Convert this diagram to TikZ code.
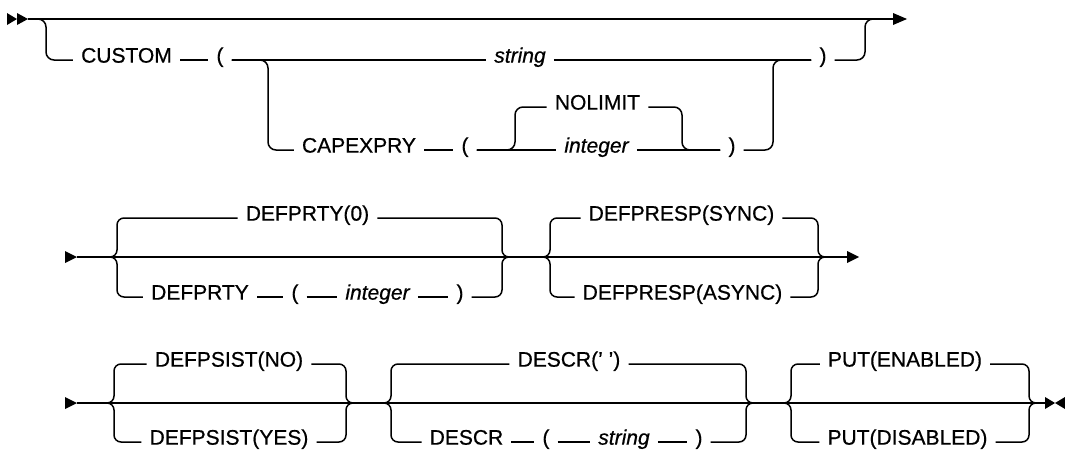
\documentclass[tikz,border=0pt]{standalone}
\usepackage{fontspec}
\setmainfont{Liberation Sans}[FakeBold=0.6]
\begin{document}
\begin{tikzpicture}[x=1pt,y=-1pt,
  rail/.style={line width=1.5pt, rounded corners=8pt},
  brace/.style={line width=1.5pt, rounded corners=7pt},
  lbl/.style={anchor=mid, inner xsep=8pt, inner ysep=2pt, font=\fontsize{21}{24}\selectfont},
  lbli/.style={lbl, font=\fontsize{21}{24}\selectfont\itshape},
  mark/.style={fill=black}]
\useasboundingbox (0,0) rectangle (1065,455);

% ---------- Row 1 ----------
\node[lbl]  (custom)   at (126.5,60) {CUSTOM};
\node[lbl]  (lp1)      at (220,60)   {(};
\node[lbli] (string1)  at (520,60)   {string};
\node[lbl]  (rp1)      at (823,60)   {)};
\node[lbl]  (capexpry) at (359,150)  {CAPEXPRY};
\node[lbl]  (lp2)      at (465,150)  {(};
\node[lbl]  (nolimit)  at (597.5,107) {NOLIMIT};
\node[lbli] (integer1) at (596.5,150) {integer};
\node[lbl]  (rp2)      at (732,150)  {)};

\coordinate (s1) at (28,19);
\coordinate (e1) at (893,19);
\fill (7,13) -- (17,19) -- (7,25) -- cycle;
\fill (17,13) -- (28,19) -- (17,25) -- cycle;
\draw[rail] (s1) -- (e1);
\fill (893,13) -- (907,19) -- (893,25) -- cycle;

\draw[rail] (30,19) -- (46,19) -- (46,60) -- (custom.mid west);
\draw[rail] (custom.mid east) -- (lp1.mid west);
\draw[rail] (lp1.mid east) -- (string1.mid west);
\draw[rail] (string1.mid east) -- (rp1.mid west);
\draw[rail] (rp1.mid east) -- (865,60) -- (865,19) -- (880,19);
\draw[rail] (lp1.mid east) -- (268,60) -- (268,150) -- (capexpry.mid west);
\draw[rail] (capexpry.mid east) -- (lp2.mid west);
\draw[rail] (lp2.mid east) -- (integer1.mid west);
\draw[rail] (lp2.mid east) -- (515,150) -- (515,107) -- (nolimit.mid west);
\draw[rail] (nolimit.mid east) -- (682,107) -- (682,150) -- (rp2.mid west);
\draw[rail] (integer1.mid east) -- (rp2.mid west);
\draw[rail] (rp2.mid east) -- (773,150) -- (773,60) -- (rp1.mid west);

% ---------- Row 2 ----------
\node[lbl]  (defprty0) at (307.5,218) {DEFPRTY(0)};
\node[lbl]  (defprty)  at (200,297)   {DEFPRTY};
\node[lbl]  (lp3)      at (295,297)   {(};
\node[lbli] (integer2) at (377.5,297) {integer};
\node[lbl]  (rp3)      at (460,297)   {)};
\node[lbl]  (sync)     at (681.5,218) {DEFPRESP(SYNC)};
\node[lbl]  (async)    at (682.5,297) {DEFPRESP(ASYNC)};

\fill (65,251) -- (77,257) -- (65,263) -- cycle;
\coordinate (s2) at (77,257);
\coordinate (e2) at (847,257);
\draw[rail] (s2) -- (e2);
\fill (847,251) -- (859,257) -- (847,263) -- cycle;

\draw[brace] (100,257) -- (117,257) -- (117,218) -- (defprty0.mid west);
\draw[brace] (100,257) -- (117,257) -- (117,297) -- (defprty.mid west);
\draw[rail] (defprty.mid east) -- (lp3.mid west);
\draw[rail] (lp3.mid east) -- (integer2.mid west);
\draw[rail] (integer2.mid east) -- (rp3.mid west);
\draw[brace] (defprty0.mid east) -- (502,218) -- (502,257) -- (520,257);
\draw[brace] (rp3.mid east) -- (502,297) -- (502,257) -- (520,257);

\draw[brace] (535,257) -- (550,257) -- (550,218) -- (sync.mid west);
\draw[brace] (535,257) -- (550,257) -- (550,297) -- (async.mid west);
\draw[brace] (sync.mid east) -- (818,218) -- (818,257) -- (835,257);
\draw[brace] (async.mid east) -- (818,297) -- (818,257) -- (835,257);

% ---------- Row 3 ----------
\node[lbl]  (psno)    at (229,364)   {DEFPSIST(NO)};
\node[lbl]  (psyes)   at (229,442)   {DEFPSIST(YES)};
\node[lbl]  (descr0)  at (569,364)   {DESCR(' ')};
\node[lbl]  (descr)   at (466.5,442) {DESCR};
\node[lbl]  (lp4)     at (546,442)   {(};
\node[lbli] (string2) at (624,442)   {string};
\node[lbl]  (rp4)     at (699,442)   {)};
\node[lbl]  (puten)   at (905,364)   {PUT(ENABLED)};
\node[lbl]  (putdis)  at (907.5,442) {PUT(DISABLED)};

\fill (65,397) -- (77,403) -- (65,409) -- cycle;
\coordinate (s3) at (77,403);
\coordinate (e3) at (1045,403);
\draw[rail] (s3) -- (e3);
\fill (1045,397) -- (1055,403) -- (1045,409) -- cycle;
\fill (1065,397) -- (1055,403) -- (1065,409) -- cycle;

\draw[brace] (97,403) -- (114,403) -- (114,364) -- (psno.mid west);
\draw[brace] (97,403) -- (114,403) -- (114,442) -- (psyes.mid west);
\draw[brace] (psno.mid east) -- (346,364) -- (346,403) -- (362,403);
\draw[brace] (psyes.mid east) -- (346,442) -- (346,403) -- (362,403);

\draw[brace] (375,403) -- (391,403) -- (391,364) -- (descr0.mid west);
\draw[brace] (375,403) -- (391,403) -- (391,442) -- (descr.mid west);
\draw[rail] (descr.mid east) -- (lp4.mid west);
\draw[rail] (lp4.mid east) -- (string2.mid west);
\draw[rail] (string2.mid east) -- (rp4.mid west);
\draw[brace] (descr0.mid east) -- (746,364) -- (746,403) -- (762,403);
\draw[brace] (rp4.mid east) -- (746,442) -- (746,403) -- (762,403);

\draw[brace] (775,403) -- (791,403) -- (791,364) -- (puten.mid west);
\draw[brace] (775,403) -- (791,403) -- (791,442) -- (putdis.mid west);
\draw[brace] (puten.mid east) -- (1029,364) -- (1029,403) -- (1040,403);
\draw[brace] (putdis.mid east) -- (1029,442) -- (1029,403) -- (1040,403);
\end{tikzpicture}
\end{document}
